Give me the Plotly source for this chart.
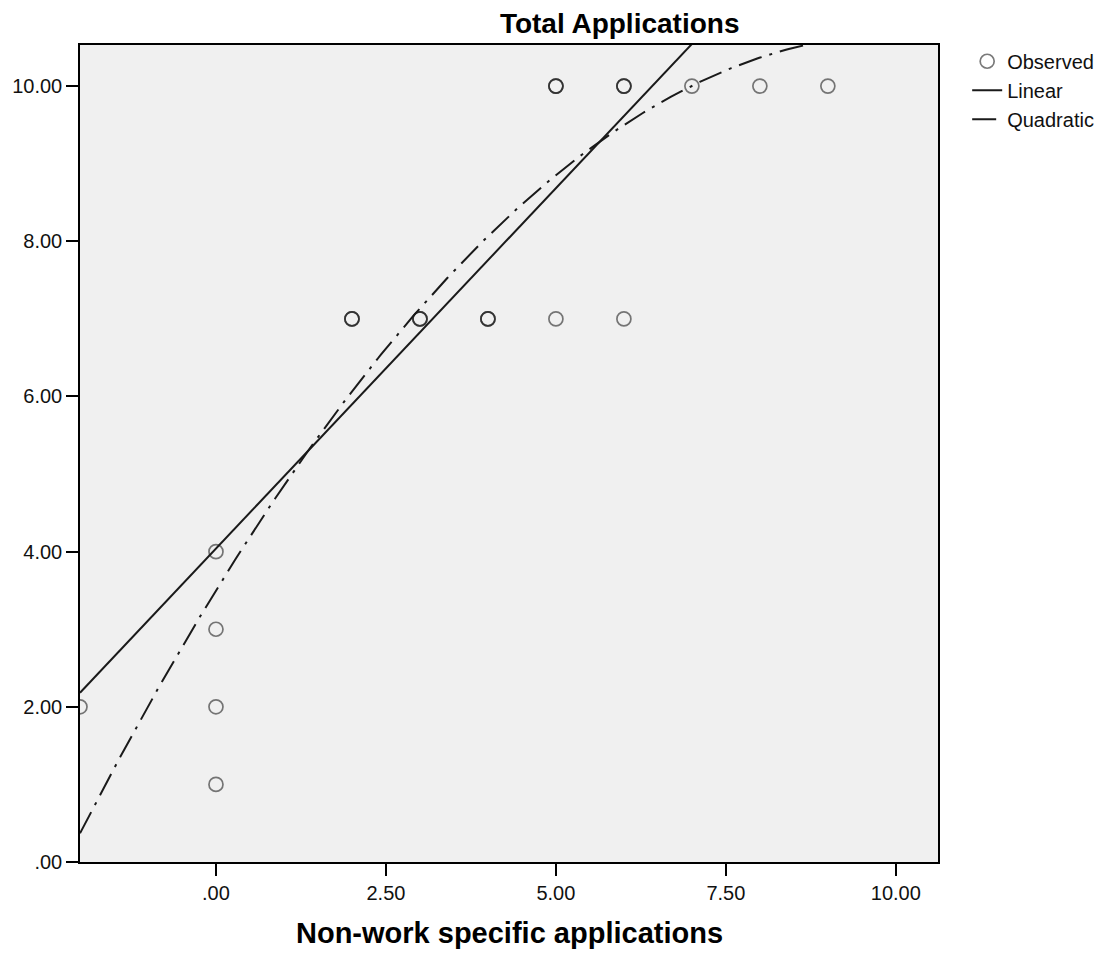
import numpy as np
import plotly.graph_objects as go

# Observed data (duplicates reflect overlapping observations)
obs_x = [-2, 0, 0, 0, 0, 2, 2, 2, 3, 3, 3, 4, 4, 4, 5, 6, 5, 5, 5, 6, 6, 6, 7, 8, 9]
obs_y = [2, 4, 3, 2, 1, 7, 7, 7, 7, 7, 7, 7, 7, 7, 7, 7, 10, 10, 10, 10, 10, 10, 10, 10, 10]

# Fitted curve coefficients
linear_coef = [4.04, 0.929]             # b0, b1
quad_coef = [3.50, 1.424, -0.0707]       # b0, b1, b2

x_ticks = [0, 2.5, 5, 7.5, 10]
x_ticktext = [".00", "2.50", "5.00", "7.50", "10.00"]
y_ticks = [0, 2, 4, 6, 8, 10]
y_ticktext = [".00", "2.00", "4.00", "6.00", "8.00", "10.00"]

x_range = [-2.0, 10.62]
y_range = [0, 10.53]

xf = np.linspace(x_range[0], x_range[1], 300)
lin_y = linear_coef[0] + linear_coef[1] * xf
quad_y = quad_coef[0] + quad_coef[1] * xf + quad_coef[2] * xf ** 2

fig = go.Figure()
fig.add_trace(go.Scatter(
    x=obs_x, y=obs_y, mode="markers", name="Observed",
    marker=dict(symbol="circle-open", size=14, color="rgba(40,40,40,0.62)",
                line=dict(width=1.7, color="rgba(40,40,40,0.62)")),
))
fig.add_trace(go.Scatter(
    x=xf, y=lin_y, mode="lines", name="Linear",
    line=dict(color="#1a1a1a", width=2),
))
fig.add_trace(go.Scatter(
    x=xf, y=quad_y, mode="lines", name="Quadratic",
    line=dict(color="#1a1a1a", width=2, dash="24px,8px,3px,8px"),
))

W, H = 1102, 947
fig.update_layout(
    width=W, height=H,
    margin=dict(l=72, r=172, t=37, b=93, autoexpand=False),
    paper_bgcolor="white",
    plot_bgcolor="#f0f0f0",
    font=dict(family="Liberation Sans, Arial, sans-serif", size=20, color="#111"),
    title=dict(text="<b>Total Applications</b>", x=0.629, xref="paper", xanchor="center",
               y=1 - 15 / H, yref="container", yanchor="middle",
               font=dict(size=28, color="#000")),
    legend=dict(x=1.034, y=1.004, xanchor="left", yanchor="top",
                font=dict(size=20), bgcolor="rgba(0,0,0,0)", tracegroupgap=0,
                itemwidth=30),
    showlegend=True,
)
fig.update_xaxes(range=x_range, tickvals=x_ticks, ticktext=x_ticktext,
                 showgrid=False, zeroline=False, showline=True, linecolor="#000",
                 linewidth=1.5, mirror=True, ticks="outside", ticklen=12,
                 tickcolor="#000", tickwidth=1.5, tickfont=dict(size=20),
                 automargin=False)
fig.update_yaxes(range=y_range, tickvals=y_ticks, ticktext=y_ticktext,
                 showgrid=False, zeroline=False, showline=True, linecolor="#000",
                 linewidth=1.5, mirror=True, ticks="outside", ticklen=12,
                 tickcolor="#000", tickwidth=1.5, tickfont=dict(size=20),
                 automargin=False)
fig.add_annotation(text="<b>Non-work specific applications</b>", xref="paper", yref="paper",
                   x=0.5, y=-(926 - 855) / 817, xanchor="center", yanchor="middle",
                   showarrow=False, font=dict(size=29, color="#000"))

fig.write_html("out.html")
